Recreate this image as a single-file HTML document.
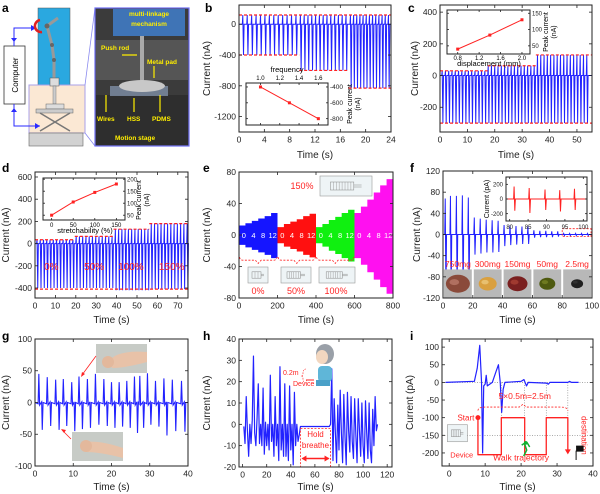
<!DOCTYPE html>
<html><head><meta charset="utf-8"><style>
html,body{margin:0;padding:0;background:#fff;}
svg{display:block;font-family:"Liberation Sans",sans-serif;}
</style></head><body>
<svg id="fig" width="600" height="494" viewBox="0 0 600 494" xmlns="http://www.w3.org/2000/svg">
<rect x="0" y="0" width="600" height="494" fill="#fff"/>
<!-- panel a schematic -->
<g>
 <text x="2" y="12" font-size="12" font-weight="bold">a</text>
 <rect x="38" y="8" width="32" height="80" fill="#2aa8e0" stroke="#555" stroke-width="0.5"/>
 <rect x="29" y="85" width="56" height="48" fill="#fbe8d4" stroke="#a9a0e8" stroke-width="1"/>
 <rect x="29" y="133" width="54" height="13" fill="#d2d2d2" stroke="#666" stroke-width="0.6"/>
 <rect x="4" y="46" width="21" height="58" fill="#fff" stroke="#333" stroke-width="0.8"/>
 <text x="0" y="0" font-size="8" transform="translate(18,75) rotate(-90)" text-anchor="middle">Computer</text>
 <path d="M14,46 V28 H36 M14,104 V126 H40" fill="none" stroke="#2a2aff" stroke-width="1"/>
 <path d="M36,28 l-5,-3 v6z M40,126 l-5,-3 v6z M14,42 l-3,-4 h6z M14,108 l-3,4 h6z" fill="#2a2aff"/>
 <path d="M40,20 a6,6 0 1 0 2,12" fill="none" stroke="#e02020" stroke-width="2.5"/>
 <path d="M47,26 L58,18 M47,26 L52,45 L54,60 L54,78" fill="none" stroke="#999" stroke-width="3"/>
 <circle cx="47" cy="26" r="2.5" fill="#666"/><circle cx="52" cy="45" r="2" fill="#666"/><circle cx="54" cy="60" r="2" fill="#666"/>
 <rect x="50" y="78" width="9" height="8" fill="#ddd" stroke="#555" stroke-width="0.5"/>
 <rect x="53" y="86" width="3" height="18" fill="#ccc" stroke="#666" stroke-width="0.4"/>
 <rect x="46" y="104" width="18" height="5" fill="#ddd" stroke="#666" stroke-width="0.5"/>
 <rect x="36" y="109" width="37" height="4" fill="#ccc" stroke="#666" stroke-width="0.5"/>
 <path d="M40,113 L70,131 M70,113 L40,131" stroke="#777" stroke-width="1.5"/>
 <path d="M85,85 L95,8 M85,133 L95,146" stroke="#8a8aef" stroke-width="0.8"/>
</g>
<g>
 <rect x="95" y="8" width="94" height="138" fill="#3b3b3b" stroke="#6e6ef5" stroke-width="1.2"/>
 <rect x="96" y="40" width="92" height="40" fill="#555"/>
 <rect x="96" y="95" width="92" height="50" fill="#2e2e2e"/>
 <rect x="113" y="9" width="72" height="27" fill="#3f74b6"/>
 <rect x="140" y="36" width="4" height="48" fill="#aaa"/>
 <rect x="110" y="86" width="58" height="10" fill="#8090a8" opacity="0.8"/>
 <ellipse cx="142" cy="86" rx="23" ry="6" fill="#c8c8c8"/>
 <g fill="#ffee00" font-size="6.5" font-weight="bold">
  <text x="149" y="16" text-anchor="middle">multi-linkage</text>
  <text x="149" y="26" text-anchor="middle">mechanism</text>
  <text x="101" y="50">Push rod</text>
  <text x="147" y="64">Metal pad</text>
  <text x="97" y="121">Wires</text>
  <text x="127" y="121">HSS</text>
  <text x="152" y="121">PDMS</text>
  <text x="115" y="140">Motion stage</text>
 </g>
 <path d="M122,55 L137,55 M154,66 V78 M106,112 V95 M134,112 V98 M160,112 V95" stroke="#ffee00" stroke-width="1.2"/>
</g>
</svg>
<script>
const NS='http://www.w3.org/2000/svg';
const svg=document.getElementById('fig');
const BLUE='#2222ff', RED='#ff2222';

/* ---------- data arrays ---------- */
// b
const bTimes=[0.6,1.3,2.0,2.7,3.4,4.1,4.8,5.5,6.2,6.9,7.6,8.3,9.0,9.7,10.3,10.9,11.5,12.1,12.7,13.3,13.9,14.5,15.1,15.7,16.3,16.9,17.6,18.1,18.6,19.1,19.6,20.1,20.6,21.1,21.6,22.1,22.6,23.1,23.6];
const bSegEnd=[9.5,17.3,24];
const bSegPos=[120,120,120];
const bSegNeg=[-400,-600,-830];
const bInsetFreq=[1.0,1.3,1.6];
const bInsetPeak=[-400,-600,-800];
// c
const cTimes=[0.8,2.0,3.2,4.4,5.6,6.8,8.0,9.2,10.4,11.6,12.8,14.0,15.2,16.4,17.6,18.8,20.0,21.2,22.4,23.6,24.8,26.0,27.2,28.4,29.6,30.8,32.0,33.2,34.4,35.6,36.8,38.0,39.2,40.4,41.6,42.8,44.0,45.2,46.4,47.6,48.8,50.0,51.2,52.4,53.6];
const cSegEnd=[17.4,35,55];
const cSegPos=[30,62,130];
const cSegNeg=[-300,-300,-300];
const cInsetDisp=[0.8,1.4,2.0];
const cInsetPeak=[40,83,130];
// d
const dTimes=[1.0,2.6,4.2,5.8,7.4,9.0,10.6,12.2,13.8,15.4,17.0,18.6,20.2,21.8,23.4,25.0,26.6,28.2,29.8,31.4,33.0,34.6,36.2,37.8,39.4,41.0,42.6,44.2,45.8,47.4,49.0,50.6,52.2,53.8,55.4,57.0,58.6,60.2,61.8,63.4,65.0,66.6,68.2,69.8,71.4,73.0,74.6];
const dSegEnd=[19.5,38.5,56,75];
const dSegPos=[35,65,130,180];
const dSegNeg=[-400,-400,-420,-410];
const dInsetStretch=[0,50,100,150];
const dInsetPeak=[50,105,145,180];
// e (envelope amplitude steps per segment)
const eBlue=[12,15,18,21,24,28];
const eRed=[10,14,17,20,24,27];
const eGreen=[10,14,19,23,28,32];
const eMagenta=[28,36,45,54,63,71];
// f
const fTimes=[1.5,5,9,13,17,21,25,29,33,37,41,45,49,53,57,61,65,69,73,77,81,85,89,93,97];
const fPos=[68,73,73,74,70,32,30,28,27,26,18,17,16,15,15,8,7,7,6,6,2,2,2,2,2];
const fNeg=[-120,-120,-120,-120,-120,-38,-36,-34,-34,-33,-22,-20,-19,-18,-18,-6,-5,-5,-5,-4,-2,-2,-2,-2,-2];
const fMasses=['750mg','300mg','150mg','50mg','2.5mg'];
const fInsetTimes=[81.2,85.3,89.6,93.6,97.6];
const fInsetPos=[170,150,130,120,140];
const fInsetNeg=[-160,-190,-150,-170,-150];
// g
const gPosT=[1.0,3.2,5.4,7.4,9.6,11.5,13.7,15.8,18.0,20.0,22.0,24.0,26.0,27.4,29.4,31.5,33.7,35.9,38.3];
const gPos=[45,40,36,37,32,41,37,45,37,32,32,34,41,42,46,34,38,36,34];
const gNegT=[1.9,4.1,6.3,8.3,10.4,12.4,14.5,16.7,18.9,20.9,22.9,24.9,26.8,28.4,30.3,32.4,34.5,36.8,39.2];
const gNeg=[-43,-37,-43,-37,-45,-42,-40,-35,-37,-40,-38,-40,-48,-40,-35,-38,-52,-45,-46];
// h
const hT=[1,2,3,4,5,6,7,8,9,10,11,12,13,14,15,16,17,18,19,20,21,22,23,24,25,26,27,28,29,30,31,32,33,34,35,36,37,38,39,40,41,42,43,44,45,46,47,48,72,73,74,75,76,77,78,79,80,81,82,83,84,85,86,87,88,89,90,91,92,93,94,95,96,97,98,99,100,101,102,103,104,105,106,107,108,109,110,111,112];
const hV=[-1,-9,13,-3,-15,0,-9,2,32,-4,-10,3,19,-9,0,-10,17,-14,1,-10,0,-12,23,-8,0,-15,13,-10,0,-17,27,-12,0,-15,19,-15,0,-17,18,-12,0,-19,15,-10,0,-8,-5,-1,-1,0,26,-17,12,-4,-18,9,-12,16,-4,-18,14,-6,-19,15,-3,-13,13,-8,-16,12,-5,-18,12,-3,-15,10,-10,-18,11,-4,-16,10,-12,-18,7,-10,13,-3,0];
// i
const iT=[-1,7,7.8,8.5,9.0,9.3,9.6,10.0,10.3,10.6,12,13,13.7,14.2,14.6,15.0,15.5,20,20.8,21.5,22,27,27.6,28,33,33.5,34,36];
const iV=[0,3,40,105,0,-200,-10,-5,20,-10,0,30,50,0,-85,-20,0,3,8,-10,0,-2,-5,0,0,3,0,0];
const iWalkT=[8,8,14.5,14.5,21,21,27,27,33,33];
const iWalkV=[-100,-205,-205,-100,-100,-205,-205,-100,-100,-195];

/* ---------- helpers ---------- */
function mk(tag,a,p){const e=document.createElementNS(NS,tag);for(const k in a)e.setAttribute(k,a[k]);(p||svg).appendChild(e);return e;}
function txt(p,x,y,s,a){const e=mk('text',Object.assign({x:x,y:y},a||{}),p);e.textContent=s;return e;}
function lin(d0,d1,r0,r1){return v=>r0+(v-d0)/(d1-d0)*(r1-r0);}
function chart(c){
 c.sx=lin(c.xd[0],c.xd[1],c.box[0],c.box[2]);
 c.sy=lin(c.yd[0],c.yd[1],c.box[3],c.box[1]);
 c.g=mk('g',{});
 
 
 return c;
}
function frame(c,fs){
 fs=fs||8.5;
 const [x0,y0,x1,y1]=c.box;
 const f=mk('rect',{x:x0,y:y0,width:x1-x0,height:y1-y0,fill:'none',stroke:'#222','stroke-width':1},c.g);
 
 
 const tl=c.tl||3;
 c.xt.forEach(v=>{const x=c.sx(v);
  mk('line',{x1:x,x2:x,y1:y1,y2:y1-tl,stroke:'#222','stroke-width':0.8},c.g);
  mk('line',{x1:x,x2:x,y1:y0,y2:y0+tl,stroke:'#222','stroke-width':0.8},c.g);
  if(!c.noXLabels){const t=txt(c.g,x,y1+fs+2,String(v),{'font-size':fs,'text-anchor':'middle',fill:'#222'});
  
  }
 });
 c.yt.forEach(v=>{const y=c.sy(v);
  mk('line',{x1:x0,x2:x0+tl,y1:y,y2:y,stroke:'#222','stroke-width':0.8},c.g);
  mk('line',{x1:x1,x2:x1-tl,y1:y,y2:y,stroke:'#222','stroke-width':0.8},c.g);
  if(c.rightLabels){const t=txt(c.g,x1+2,y+fs*0.35,String(v),{'font-size':fs,fill:'#222'});
   
   }
  else if(!c.noYLabels){const t=txt(c.g,x0-3,y+fs*0.35,String(v),{'font-size':fs,'text-anchor':'end',fill:'#222'});
   
   }
 });
 if(c.xTitle){const t=txt(c.g,(x0+x1)/2,c.xTitleY,c.xTitle,{'font-size':c.titleFs||10,'text-anchor':'middle',fill:'#222'});
  
  }
 if(c.yTitle){const t=txt(c.g,0,0,c.yTitle,{'font-size':c.titleFs||10,'text-anchor':'middle',fill:'#222',transform:`translate(${c.yTitleX},${(y0+y1)/2}) rotate(-90)`});
  
  }
}
function letter(x,y,s){const t=txt(svg,x,y,s,{'font-size':12,'font-weight':'bold'});
 
 }
function segVal(t,ends,vals){for(let i=0;i<ends.length;i++)if(t<=ends[i])return vals[i];return vals[vals.length-1];}
function spikeTrain(c,times,posF,negF,color,name){
 let d=`M${c.box[0]},${c.sy(0)}`;
 times.forEach((t,i)=>{const x=c.sx(t);
  d+=` L${x-0.5},${c.sy(0)} L${x},${c.sy(posF(t,i))} L${x+0.7},${c.sy(negF(t,i))} L${x+1.3},${c.sy(0)}`;});
 d+=` L${c.box[2]},${c.sy(0)}`;
 const p=mk('path',{d:d,fill:'none',stroke:color,'stroke-width':1},c.g);
 
 
}
function dashSeg(c,t0,t1,v,name){const l=mk('line',{x1:c.sx(t0),x2:c.sx(t1),y1:c.sy(v),y2:c.sy(v),stroke:RED,'stroke-width':1.2,'stroke-dasharray':'3,2'},c.g);
 
 }
function insetLine(c,xs,ys,name){
 let d='';xs.forEach((x,i)=>{d+=(i?' L':'M')+c.sx(x)+','+c.sy(ys[i]);});
 const p=mk('path',{d:d,fill:'none',stroke:RED,'stroke-width':1},c.g);
 
 
 xs.forEach((x,i)=>{const r=mk('rect',{x:c.sx(x)-1.5,y:c.sy(ys[i])-1.5,width:3,height:3,fill:RED},c.g);
  
  });
}
function whiteBox(c){mk('rect',{x:c.box[0],y:c.box[1],width:c.box[2]-c.box[0],height:c.box[3]-c.box[1],fill:'#fff'},c.g);}
function polyline(c,xs,ys,color,w,name){
 let d='';xs.forEach((x,i)=>{d+=(i?' L':'M')+c.sx(x).toFixed(2)+','+c.sy(ys[i]).toFixed(2);});
 const p=mk('path',{d:d,fill:'none',stroke:color,'stroke-width':w,'stroke-linejoin':'round'},c.g);
 
 
 return p;
}

/* ---------- panel b ---------- */
letter(205,12,'b');
const B=chart({name:'panel-b-chart',box:[239,5,391,132],xd:[0,24],yd:[-1400,250],xt:[0,4,8,12,16,20,24],yt:[0,-400,-800,-1200],xTitle:'Time (s)',xTitleY:158,yTitle:'Current (nA)',yTitleX:210});
spikeTrain(B,bTimes,t=>segVal(t,bSegEnd,bSegPos),t=>segVal(t,bSegEnd,bSegNeg),BLUE,'b-current-trace');
dashSeg(B,0,24,120,'b-peak-line');
dashSeg(B,0,9.5,-400,'b-level-1');dashSeg(B,9.5,17.3,-600,'b-level-2');dashSeg(B,17.3,24,-830,'b-level-3');
frame(B);
const Bi=chart({name:'panel-b-inset',box:[246,83,328,125],xd:[0.85,1.7],yd:[-880,-350],xt:[1.0,1.2,1.4,1.6],yt:[-400,-600,-800],noXLabels:true,rightLabels:true,tl:2});
whiteBox(Bi);
insetLine(Bi,bInsetFreq,bInsetPeak,'b-inset-line');
frame(Bi,6.5);
[1.0,1.2,1.4,1.6].forEach(v=>txt(Bi.g,Bi.sx(v),80,v.toFixed(1),{'font-size':6,'text-anchor':'middle'}));
txt(Bi.g,287,72,'frequency',{'font-size':7.5,'text-anchor':'middle'});
txt(Bi.g,0,0,'Peak current',{'font-size':7,'text-anchor':'middle',transform:'translate(352,104) rotate(-90)'});
txt(Bi.g,0,0,'(nA)',{'font-size':7,'text-anchor':'middle',transform:'translate(360,104) rotate(-90)'});

/* ---------- panel c ---------- */
letter(408,12,'c');
const C=chart({name:'panel-c-chart',box:[440,5,592,132],xd:[0,55.5],yd:[-356,445],xt:[0,10,20,30,40,50],yt:[400,200,0,-200],xTitle:'Time (s)',xTitleY:158,yTitle:'Current (nA)',yTitleX:418});
spikeTrain(C,cTimes,t=>segVal(t,cSegEnd,cSegPos),t=>segVal(t,cSegEnd,cSegNeg),BLUE,'c-current-trace');
dashSeg(C,0,17.4,30,'c-level-1');dashSeg(C,17.4,35,62,'c-level-2');dashSeg(C,35,55.5,130,'c-level-3');
dashSeg(C,0,55.5,-300,'c-neg-line');
frame(C);
const Ci=chart({name:'panel-c-inset',box:[447,10,530,54],xd:[0.6,2.15],yd:[25,160],xt:[0.8,1.2,1.6,2.0],yt:[50,100,150],noXLabels:true,rightLabels:true,tl:2});
whiteBox(Ci);
insetLine(Ci,cInsetDisp,cInsetPeak,'c-inset-line');
frame(Ci,6);
[0.8,1.2,1.6,2.0].forEach(v=>txt(Ci.g,Ci.sx(v),60,v.toFixed(1),{'font-size':6,'text-anchor':'middle'}));
txt(Ci.g,489,66,'displacement (mm)',{'font-size':7.5,'text-anchor':'middle'});
txt(Ci.g,0,0,'Peak current',{'font-size':7,'text-anchor':'middle',transform:'translate(548,32) rotate(-90)'});
txt(Ci.g,0,0,'(nA)',{'font-size':7,'text-anchor':'middle',transform:'translate(556,32) rotate(-90)'});

/* ---------- panel d ---------- */
letter(2,172,'d');
const D=chart({name:'panel-d-chart',box:[35,172,188,298],xd:[0,75],yd:[-490,645],xt:[0,10,20,30,40,50,60,70],yt:[600,400,200,0,-200,-400],xTitle:'Time (s)',xTitleY:323,yTitle:'Current (nA)',yTitleX:9});
spikeTrain(D,dTimes,t=>segVal(t,dSegEnd,dSegPos),t=>segVal(t,dSegEnd,dSegNeg),BLUE,'d-current-trace');
dashSeg(D,0,19.5,35,'d-level-1');dashSeg(D,19.5,38.5,65,'d-level-2');dashSeg(D,38.5,56,130,'d-level-3');dashSeg(D,56,75,180,'d-level-4');
dashSeg(D,0,75,-410,'d-neg-line');
[['0%',8],['50%',29],['100%',47],['150%',67]].forEach(a=>{const t=txt(D.g,D.sx(a[1]),D.sy(-200)+4,a[0],{'font-size':10,fill:RED,'text-anchor':'middle'});
 
 });
frame(D);
const Di=chart({name:'panel-d-inset',box:[43,178,125,220],xd:[-20,170],yd:[30,205],xt:[0,50,100,150],yt:[50,100,150,200],noXLabels:true,rightLabels:true,tl:2});
whiteBox(Di);
insetLine(Di,dInsetStretch,dInsetPeak,'d-inset-line');
frame(Di,6);
[0,50,100,150].forEach(v=>txt(Di.g,Di.sx(v),227,String(v),{'font-size':6,'text-anchor':'middle'}));
txt(Di.g,85,233,'stretchability (%)',{'font-size':7.5,'text-anchor':'middle'});
txt(Di.g,0,0,'Peak current',{'font-size':7,'text-anchor':'middle',transform:'translate(141,200) rotate(-90)'});
txt(Di.g,0,0,'(nA)',{'font-size':7,'text-anchor':'middle',transform:'translate(149,200) rotate(-90)'});

/* ---------- panel e ---------- */
letter(203,172,'e');
const E=chart({name:'panel-e-chart',box:[239,172,393,298],xd:[0,800],yd:[-80,80],xt:[0,200,400,600,800],yt:[80,40,0,-40,-80],xTitle:'Time (s)',xTitleY:323,yTitle:'Current (nA)',yTitleX:210});
[[eBlue,0,'#1515ff','e-band-0'],[eRed,200,'#ff1010','e-band-50'],[eGreen,400,'#10f010','e-band-100'],[eMagenta,600,'#ff10f0','e-band-150']].forEach(s=>{
 const amps=s[0],t0=s[1],n=amps.length,w=200/n;
 let top='',bot='';
 amps.forEach((a,i)=>{top+=` L${E.sx(t0+i*w)},${E.sy(a)} L${E.sx(t0+(i+1)*w)},${E.sy(a)}`;});
 for(let i=n-1;i>=0;i--){bot+=` L${E.sx(t0+(i+1)*w)},${E.sy(-amps[i]*1.05)} L${E.sx(t0+i*w)},${E.sy(-amps[i]*1.05)}`;}
 const p=mk('path',{d:'M'+E.sx(t0)+','+E.sy(0)+top+bot+'Z',fill:s[2]},E.g);
 
 
 ['0','4','8','12'].forEach((l,i)=>txt(E.g,E.sx(t0+25+i*50),E.sy(0)+3,l,{'font-size':7.5,fill:'#fff','text-anchor':'middle'}));
});
let br='';[0,200,400,600].forEach((t,i)=>{if(i<3){br+=`M${E.sx(t+3)},${E.sy(-28)} Q${E.sx(t+5)},${E.sy(-32)} ${E.sx(t+20)},${E.sy(-32)} L${E.sx(t+85)},${E.sy(-32)} L${E.sx(t+100)},${E.sy(-36)} L${E.sx(t+115)},${E.sy(-32)} L${E.sx(t+180)},${E.sy(-32)} Q${E.sx(t+195)},${E.sy(-32)} ${E.sx(t+197)},${E.sy(-28)} `;}});
const ebr=mk('path',{d:br,fill:'none',stroke:RED,'stroke-width':0.8,'stroke-dasharray':'2,1.5'},E.g);


function device(p,x,y,w,h,n){mk('rect',{x:x,y:y,width:w,height:h,fill:'#eef4f6',stroke:'#999','stroke-width':0.6},p);
 const cx=x+w*0.2,cw=w*0.45;mk('rect',{x:cx,y:y+h*0.3,width:cw,height:h*0.4,fill:'none',stroke:'#888','stroke-width':0.5},p);
 for(let i=1;i<n;i++)mk('line',{x1:cx+cw*i/n,x2:cx+cw*i/n,y1:y+h*0.3,y2:y+h*0.7,stroke:'#888','stroke-width':0.4},p);
 mk('path',{d:`M${cx+cw},${y+h*0.45} h${w*0.15} M${cx+cw},${y+h*0.55} h${w*0.15}`,stroke:'#888','stroke-width':0.5},p);}
device(E.g,248,267,20,16,3);device(E.g,281,267,30,16,6);device(E.g,319,267,36,16,7);device(E.g,320,176,52,20,8);
txt(E.g,258,294,'0%',{'font-size':9,fill:RED,'text-anchor':'middle'});
txt(E.g,296,294,'50%',{'font-size':9,fill:RED,'text-anchor':'middle'});
txt(E.g,336,294,'100%',{'font-size':9,fill:RED,'text-anchor':'middle'});
txt(E.g,302,189,'150%',{'font-size':9,fill:RED,'text-anchor':'middle'});
frame(E);

/* ---------- panel f ---------- */
letter(410,172,'f');
const F=chart({name:'panel-f-chart',box:[443,171,592,298],xd:[0,100],yd:[-120,120],xt:[0,20,40,60,80,100],yt:[120,80,40,0,-40,-80,-120],xTitle:'Time (s)',xTitleY:323,yTitle:'Current (nA)',yTitleX:420});
spikeTrain(F,fTimes,(t,i)=>fPos[i],(t,i)=>fNeg[i],BLUE,'f-current-trace');
const fb=mk('rect',{x:F.sx(80),y:F.sy(11),width:F.sx(100)-F.sx(80)-1,height:F.sy(-4)-F.sy(11),fill:'none',stroke:RED,'stroke-width':0.8,'stroke-dasharray':'2,1.5'},F.g);


const seedCols=[['#8a4a3a','#b07060'],['#d9a040','#e8c070'],['#7a2020','#a03a30'],['#4e5a10','#6e7a20'],['#202020','#303030']];
fMasses.forEach((m,i)=>{const x=F.sx(i*20)+1,w=F.sx(20)-F.sx(0)-2;
 const ph=mk('g',{},F.g);
 
 
 mk('rect',{x:x,y:F.sy(-66),width:w,height:F.sy(-119)-F.sy(-66),fill:'#b8b8b8'},ph);
 const r=[12,9,10,8,6][i];
 mk('ellipse',{cx:x+w/2,cy:F.sy(-93),rx:r,ry:r*0.75,fill:seedCols[i][0]},ph);
 mk('ellipse',{cx:x+w/2-r*0.3,cy:F.sy(-90),rx:r*0.4,ry:r*0.25,fill:seedCols[i][1]},ph);
 txt(F.g,x+w/2,F.sy(-61),m,{'font-size':8.5,fill:RED,'text-anchor':'middle'});
});
frame(F);
const Fi=chart({name:'panel-f-inset',box:[506,177,587,221],xd:[79,101],yd:[-300,300],xt:[80,85,90,95,100],yt:[200,0,-200],tl:2});
whiteBox(Fi);
spikeTrain(Fi,fInsetTimes,(t,i)=>fInsetPos[i],(t,i)=>fInsetNeg[i],RED,'f-inset-trace');
frame(Fi,6);
txt(Fi.g,0,0,'Current (pA)',{'font-size':7,'text-anchor':'middle',transform:'translate(489,199) rotate(-90)'});

/* ---------- panel g ---------- */
letter(2,340,'g');
const G=chart({name:'panel-g-chart',box:[35,339,188,466],xd:[0,40],yd:[-100,100],xt:[0,10,20,30,40],yt:[100,50,0,-50,-100],xTitle:'Time (s)',xTitleY:490,yTitle:'Current (nA)',yTitleX:9});
{let d=`M${G.box[0]},${G.sy(0)}`;
 gPosT.forEach((t,i)=>{d+=` L${G.sx(t)-0.7},${G.sy(-2)} L${G.sx(t)},${G.sy(gPos[i])} L${G.sx(t)+0.8},${G.sy(-4)} L${G.sx(gNegT[i])-0.6},${G.sy(1)} L${G.sx(gNegT[i])},${G.sy(gNeg[i])} L${G.sx(gNegT[i])+0.8},${G.sy(0)}`;});
 d+=` L${G.box[2]},${G.sy(0)}`;
 const p=mk('path',{d:d,fill:'none',stroke:BLUE,'stroke-width':1.1},G.g);
 
 }
{const p1=mk('g',{},G.g);
 mk('rect',{x:96,y:344,width:51,height:29,fill:'#c7cbc6'},p1);mk('path',{d:'M110,360 Q118,350 147,352 L147,362 Q125,368 112,368 Z',fill:'#e8c2a8'},p1);mk('circle',{cx:108,cy:362,r:6,fill:'#e3b89c'},p1);
 const p2=mk('g',{},G.g);
 mk('rect',{x:72,y:432,width:51,height:29,fill:'#c7cbc6'},p2);mk('path',{d:'M84,442 Q100,440 123,448 L123,458 Q100,452 86,452 Z',fill:'#e8c2a8'},p2);mk('circle',{cx:86,cy:446,r:6,fill:'#e3b89c'},p2);
 mk('path',{d:'M96,356 L82,375 M71,439 L62,430',stroke:RED,'stroke-width':0.8},G.g);
 mk('path',{d:'M81,377 l1,-5 l3,2z M61,429 l5,1 l-2,3z',fill:RED},G.g);}
frame(G);

/* ---------- panel h ---------- */
letter(203,340,'h');
const H=chart({name:'panel-h-chart',box:[239,339,392,467],xd:[-3,124],yd:[-20,40],xt:[0,20,40,60,80,100,120],yt:[40,30,20,10,0,-10,-20],xTitle:'Time (s)',xTitleY:490,yTitle:'Current (nA)',yTitleX:210});
polyline(H,hT,hV,BLUE,1.2,'h-breath-trace');
{const x0=H.sx(48),x1=H.sx(73);
 const hb=mk('rect',{x:x0,y:H.sy(-2),width:x1-x0,height:H.sy(-20)-H.sy(-2),fill:'none',stroke:RED,'stroke-width':0.8,'stroke-dasharray':'2,1.5'},H.g);
 
 
 txt(H.g,(x0+x1)/2,H.sy(-6),'Hold',{'font-size':8,fill:RED,'text-anchor':'middle'});
 txt(H.g,(x0+x1)/2,H.sy(-11),'breathe',{'font-size':8,fill:RED,'text-anchor':'middle'});
 mk('path',{d:`M${x0+2},${H.sy(-16)} H${x1-2}`,stroke:RED,'stroke-width':1.5},H.g);
 mk('path',{d:`M${x0+1},${H.sy(-16)} l5,-3 v6z M${x1-1},${H.sy(-16)} l-5,-3 v6z`,fill:RED},H.g);}
{const fig=mk('g',{},H.g);
 mk('ellipse',{cx:325,cy:354,rx:9,ry:10,fill:'#9aa0a8'},fig);mk('ellipse',{cx:322,cy:357,rx:6,ry:7,fill:'#f2d7c0'},fig);
 mk('rect',{x:318,y:366,width:14,height:16,rx:4,fill:'#5fb6d8'},fig);mk('rect',{x:316,y:380,width:14,height:6,fill:'#4aa0c8'},fig);
 txt(H.g,283,375,'0.2m',{'font-size':7,fill:RED});txt(H.g,293,386,'Device',{'font-size':7,fill:RED});
 mk('path',{d:'M306,369 q-3,0 -3,4 q0,3 -2,3 q2,0 2,3 q0,4 3,4',fill:'none',stroke:RED,'stroke-width':0.6,'stroke-dasharray':'1.5,1'},H.g);
 mk('line',{x1:306,x2:314,y1:380,y2:380,stroke:RED,'stroke-width':1},H.g);}
frame(H);

/* ---------- panel i ---------- */
letter(410,340,'i');
const I=chart({name:'panel-i-chart',box:[442,339,593,466],xd:[-2,40],yd:[-237,123],xt:[0,10,20,30,40],yt:[100,50,0,-50,-100,-150,-200],xTitle:'Time (s)',xTitleY:490,yTitle:'Current (pA)',yTitleX:413});
[0,-150].forEach(v=>mk('line',{x1:I.box[0],x2:I.box[2],y1:I.sy(v),y2:I.sy(v),stroke:'#777','stroke-width':0.6,'stroke-dasharray':'1,1.5'},I.g));
[14.5,21,27,33].forEach(v=>mk('line',{x1:I.sx(v),x2:I.sx(v),y1:I.sy(0),y2:I.sy(-100),stroke:'#777','stroke-width':0.6,'stroke-dasharray':'1,1.5'},I.g));
polyline(I,iT,iV,BLUE,1.2,'i-current-trace');
polyline(I,iWalkT,iWalkV,RED,1.3,'i-walk-trajectory');
mk('path',{d:`M${I.sx(33)-3},${I.sy(-190)} h6 l-3,5z`,fill:RED},I.g);
mk('circle',{cx:I.sx(8),cy:I.sy(-100),r:2.5,fill:RED},I.g);
mk('path',{d:`M${I.sx(8)},${I.sy(-80)} Q${I.sx(8)},${I.sy(-70)} ${I.sx(10)},${I.sy(-70)} H${I.sx(19.5)} L${I.sx(20.5)},${I.sy(-62)} L${I.sx(21.5)},${I.sy(-70)} H${I.sx(31)} Q${I.sx(33)},${I.sy(-70)} ${I.sx(33)},${I.sy(-80)}`,fill:'none',stroke:RED,'stroke-width':0.8,'stroke-dasharray':'2,1.5'},I.g);
txt(I.g,I.sx(21),I.sy(-47),'5×0.5m=2.5m',{'font-size':8.5,fill:RED,'text-anchor':'middle'});
txt(I.g,I.sx(7),I.sy(-100)+3,'Start',{'font-size':8,fill:RED,'text-anchor':'end'});
txt(I.g,I.sx(3.5),I.sy(-205)+3,'Device',{'font-size':7.5,fill:RED,'text-anchor':'middle'});
txt(I.g,I.sx(20),I.sy(-222),'Walk trajectory',{'font-size':8.5,fill:RED,'text-anchor':'middle'});
txt(I.g,0,0,'destination',{'font-size':8,fill:RED,'text-anchor':'middle',transform:`translate(${I.sx(36)+3},${I.sy(-150)}) rotate(90)`});
device(I.g,I.sx(-0.5),I.sy(-120),20,17,5);
mk('path',{d:`M${I.sx(21)},${I.sy(-175)} l2,6 l-3,6 M${I.sx(21)+2},${I.sy(-169)} l3,5 M${I.sx(21)},${I.sy(-172)} l-3,2`,stroke:'#10b030','stroke-width':1.5,fill:'none'},I.g);
mk('circle',{cx:I.sx(21)+1,cy:I.sy(-177)-2,r:1.8,fill:'#10b030'},I.g);
mk('path',{d:`M${I.sx(35.3)},${I.sy(-220)} V${I.sy(-195)} h7 v-5 h-7`,stroke:'#111','stroke-width':1,fill:'#111'},I.g);
frame(I);
</script>
</body></html>
